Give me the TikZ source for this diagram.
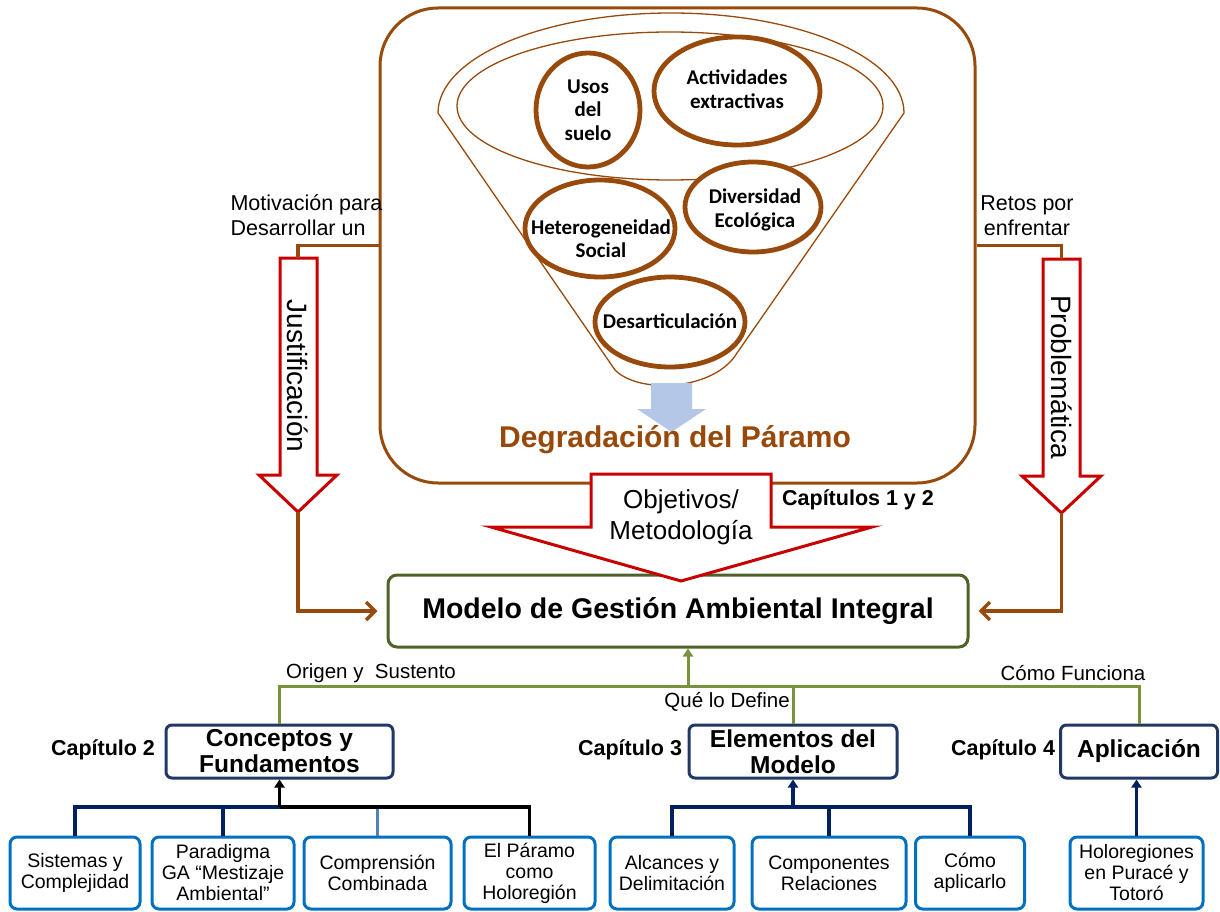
\documentclass[tikz,border=0pt]{standalone}
\usepackage{fontspec}
\setmainfont{Liberation Sans}
\newfontfamily\calibfont{Carlito}
\usetikzlibrary{arrows.meta,shapes.geometric,shadows}
\definecolor{brownln}{RGB}{152,74,12}
\definecolor{browntx}{RGB}{152,72,8}
\definecolor{redarr}{RGB}{200,0,0}
\definecolor{greenln}{RGB}{119,147,60}
\definecolor{greenbox}{RGB}{79,98,40}
\definecolor{navyln}{RGB}{0,32,96}
\definecolor{navybox}{RGB}{31,56,100}
\definecolor{subbox}{RGB}{0,112,192}
\definecolor{paleblue}{RGB}{180,199,231}
\definecolor{midblue}{RGB}{79,129,189}
\newcommand\fsz[2]{\fontsize{#1}{#2}\selectfont}
\begin{document}
\begin{tikzpicture}[x=1pt,y=-1pt,
  bubble/.style={ellipse, draw=brownln, line width=4.8pt, fill=white, inner sep=0pt,
    drop shadow={shadow xshift=1.5pt, shadow yshift=-2.5pt, opacity=0.18}},
  bubbletext/.style={align=center, inner sep=0pt, font=\calibfont\bfseries\fsz{21}{23.5}},
  blockarr/.style={draw=redarr, line width=3pt, fill=white, line join=miter},
  brownconn/.style={draw=brownln, line width=3.5pt},
  greenconn/.style={draw=greenln, line width=3pt},
  navyconn/.style={draw=navyln, line width=3.5pt},
  navytip/.style={-{Triangle[length=8pt,width=10pt]}},
  chapbox/.style={draw=navybox, line width=3pt, rounded corners=6pt, fill=white, align=center,
    font=\bfseries\fsz{24.5}{26}, inner sep=0pt, minimum height=53pt},
  subitem/.style={draw=subbox, line width=3pt, rounded corners=7pt, fill=white, align=center,
    font=\fsz{19.5}{21}, inner sep=0pt, minimum height=72pt},
  chaplabel/.style={font=\bfseries\fsz{21.5}{24}},
  connlabel/.style={font=\fsz{20.5}{24}},
  sidelabel/.style={font=\fsz{21.5}{25}},
  arrowtext/.style={font=\fsz{28}{30}, rotate=-90, inner sep=0pt},
]
\useasboundingbox (0,0) rectangle (1220,912);

% ---------- upper frame with the funnel ----------
\node[draw=brownln, line width=3pt, rounded corners=58pt, minimum width=595pt,
      minimum height=475pt, inner sep=0pt] (frame) at (677.5,245.5) {};

% funnel outline: top half of the rim, tapered sides and rounded spout
\draw[brownln, line width=1.3pt]
  (438,113) .. controls (438,57.8) and (542.3,13) .. (671,13)
            .. controls (799.7,13) and (904,57.8) .. (904,113)
  -- (737,353) .. controls (715,390) and (640,395) .. (615,370) -- cycle;
\draw[brownln, line width=1.3pt] (670,106) ellipse [x radius=213pt, y radius=74pt];

% factors inside the funnel
\node[bubble, minimum width=104pt, minimum height=114pt] (usos) at (588,110) {};
\node[bubbletext] (usostx) at (usos.center) {Usos\\del\\suelo};
\node[bubble, minimum width=166pt, minimum height=108pt] (activ) at (737,91) {};
\node[bubbletext] (activtx) at (737,89) {Actividades\\extractivas};
\node[bubble, minimum width=136pt, minimum height=90pt] (diver) at (753,207) {};
\node[bubbletext] (divertx) at (755,210) {Diversidad\\Ecológica};
\node[bubble, minimum width=150pt, minimum height=97pt] (hetero) at (600,228.5) {};
\node[bubbletext] (heterotx) at (601,238.5) {Heterogeneidad\\Social};
\node[bubble, minimum width=150pt, minimum height=90pt] (desart) at (670,322) {};
\node[bubbletext] (desarttx) at (670,321) {Desarticulación};

% outlet of the funnel
\fill[paleblue] (651,383) -- (692,383) -- (692,409) -- (706,409) -- (671.5,432)
  -- (637,409) -- (651,409) -- cycle;
\node[font=\bfseries\fsz{30}{32}, text=browntx] (degr) at (675,440) {Degradación del Páramo};

% ---------- central model box ----------
\node[draw=greenbox, line width=3pt, rounded corners=9pt, minimum width=580pt,
      minimum height=72pt, fill=white, font=\bfseries\fsz{28.5}{30}] (modelo) at (678,611)
      {Modelo de Gestión Ambiental Integral};

% objectives / methodology block arrow
\draw[blockarr] (591,474) -- (771,474) -- (771,527) -- (872,527) -- (681,581)
  -- (491,527) -- (591,527) -- cycle;
\node[font=\fsz{26}{31}, align=center, inner sep=0pt] (objtx) at (681,517) {Objetivos/\\Metodología};
\node[chaplabel] (cap12) at (858,500) {Capítulos 1 y 2};

% justification arrow (left)
\draw[blockarr] (280,258) -- (317,258) -- (317,475) -- (337,475) -- (298,512)
  -- (259,475) -- (280,475) -- cycle;
\coordinate (jtop) at (298,258);
\coordinate (jtip) at (298,512);
\node[arrowtext] (justx) at (298,376) {Justificación};

% problem arrow (right)
\draw[blockarr] (1043,259) -- (1080,259) -- (1080,476) -- (1101,476) -- (1061.5,513)
  -- (1022,476) -- (1043,476) -- cycle;
\coordinate (ptop) at (1061.5,259);
\coordinate (ptip) at (1061.5,513);
\node[arrowtext] (probtx) at (1061.5,377) {Problemática};

% brown connectors
\draw[brownconn] (frame.west) -- (frame.west -| jtop) -- (jtop);
\draw[brownconn, -{Straight Barb[length=9pt,width=18pt]}, shorten >=9pt] (jtip) |- (modelo.west);
\draw[brownconn] (frame.east) -- (frame.east -| ptop) -- (ptop);
\draw[brownconn, -{Straight Barb[length=9pt,width=18pt]}, shorten >=9pt] (ptip) |- (modelo.east);

\node[sidelabel, align=left, anchor=west] (motiv) at (227,215.5) {Motivación para\\Desarrollar un};
\node[sidelabel, align=center] (retos) at (1027,215.5) {Retos por\\enfrentar};

% ---------- chapters ----------
\node[chapbox, minimum width=227pt] (concep) at (279.5,751.5) {Conceptos y\\Fundamentos};
\node[chapbox, minimum width=208pt] (elem) at (793,751.5) {Elementos del\\Modelo};
\node[chapbox, minimum width=157pt] (aplic) at (1139,751.5) {Aplicación};

\node[chaplabel] (cap2) at (103,750) {Capítulo 2};
\node[chaplabel] (cap3) at (630,750) {Capítulo 3};
\node[chaplabel] (cap4) at (1003,750) {Capítulo 4};

% green bus into the model
\coordinate (bus) at (688,686);
\draw[greenconn, -{Triangle[length=8pt,width=10pt]}] (bus) -- (bus |- modelo.south);
\draw[greenconn] (concep.north) |- (bus) -| (aplic.north);
\draw[greenconn] (elem.north) -- (elem.north |- bus);

\node[connlabel] (origen) at (371,673) {Origen y\ \ Sustento};
\node[connlabel, anchor=east, inner sep=1pt] (quedef) at (791,702) {Qué lo Define};
\node[connlabel] (comofun) at (1073,673) {Cómo Funciona};

% ---------- sub-topics ----------
\node[subitem, minimum width=130pt] (s1) at (75,873) {Sistemas y\\Complejidad};
\node[subitem, minimum width=142pt] (s2) at (223,873) {Paradigma\\GA “Mestizaje\\Ambiental”};
\node[subitem, minimum width=147pt] (s3) at (377.5,873) {Comprensión\\Combinada};
\node[subitem, minimum width=131pt] (s4) at (529.5,873) {El Páramo\\como\\Holoregión};
\node[subitem, minimum width=124pt] (s5) at (672,873) {Alcances y\\Delimitación};
\node[subitem, minimum width=154pt] (s6) at (829,873) {Componentes\\Relaciones};
\node[subitem, minimum width=109pt] (s7) at (970,873) {Cómo\\aplicarlo};
\node[subitem, minimum width=133pt] (s8) at (1136.5,873) {Holoregiones\\en Puracé y\\Totoró};

% chapter 2 tree
\coordinate (cjunc) at (279.5,807);
\draw[navyconn] (s1.north) |- (cjunc) -- (cjunc -| s3.north);
\draw[navyconn] (s2.north) -- (s2.north |- cjunc);
\draw[midblue, line width=3pt] (s3.north) -- (s3.north |- cjunc);
\draw[black, line width=3.5pt] (s4.north) |- (cjunc);
\draw[black, line width=3pt, navytip] (cjunc) -- (concep.south);

% chapter 3 tree
\coordinate (ejunc) at (793,807);
\draw[navyconn] (s5.north) |- (ejunc) -| (s7.north);
\draw[navyconn] (s6.north) -- (s6.north |- ejunc);
\draw[navyconn, navytip] (ejunc) -- (elem.south);

% chapter 4
\draw[navyconn, navytip] (s8.north) -- (s8.north |- aplic.south);
\end{tikzpicture}
\end{document}
